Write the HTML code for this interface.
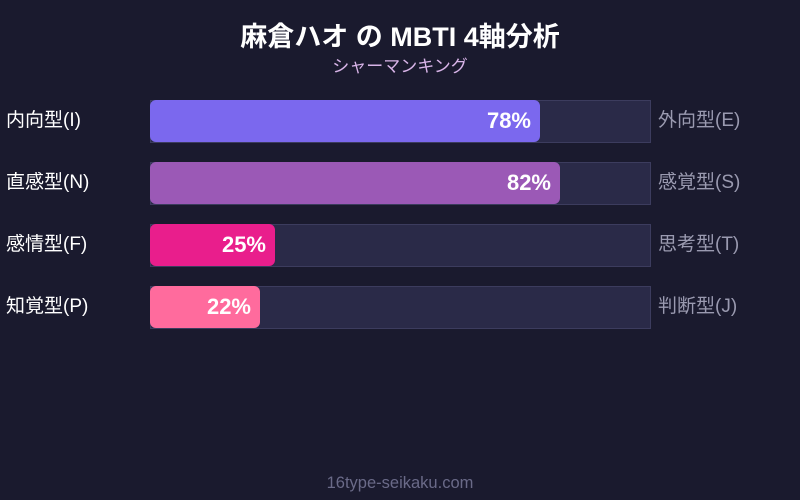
<!DOCTYPE html>
<html><head><meta charset="utf-8"><style>
body{margin:0;width:800px;height:500px;background:#1a1a2e;font-family:"Liberation Sans","Noto Sans CJK JP",sans-serif;position:relative;overflow:hidden}
.t{position:absolute;left:0;width:800px;text-align:center;color:#fff}
.row{position:absolute;left:0;width:800px;height:42px}
.lab{position:absolute;left:6px;top:0;line-height:42px;font-size:19px;color:#fff}
.rl{position:absolute;left:658px;top:0;line-height:42px;font-size:19px;color:#9a9ab0}
.track{position:absolute;left:150px;top:0;width:499px;height:41px;background:#2a2a48;border:1px solid #3c3c5e}
.fill{position:absolute;left:150px;top:0;height:42px;border-radius:6px}
.pct{position:absolute;right:9px;top:0;line-height:42px;font-size:22px;font-weight:bold;color:#fff}
</style></head><body>
<div class="t" style="top:15px;font-size:27px;font-weight:bold">麻倉ハオ の MBTI 4軸分析</div>
<div class="t" style="top:52px;font-size:17px;color:#d8b4e8">シャーマンキング</div>

<div class="row" style="top:100px"><div class="lab">内向型(I)</div><div class="track"></div><div class="fill" style="width:390px;background:#7b68ee"><span class="pct">78%</span></div><div class="rl">外向型(E)</div></div>
<div class="row" style="top:162px"><div class="lab">直感型(N)</div><div class="track"></div><div class="fill" style="width:410px;background:#9b59b6"><span class="pct">82%</span></div><div class="rl">感覚型(S)</div></div>
<div class="row" style="top:224px"><div class="lab">感情型(F)</div><div class="track"></div><div class="fill" style="width:125px;background:#e91e8c"><span class="pct">25%</span></div><div class="rl">思考型(T)</div></div>
<div class="row" style="top:286px"><div class="lab">知覚型(P)</div><div class="track"></div><div class="fill" style="width:110px;background:#ff6b9d"><span class="pct">22%</span></div><div class="rl">判断型(J)</div></div>

<div class="t" style="top:474px;font-size:16.5px;color:#6a6a88">16type-seikaku.com</div>
</body></html>
